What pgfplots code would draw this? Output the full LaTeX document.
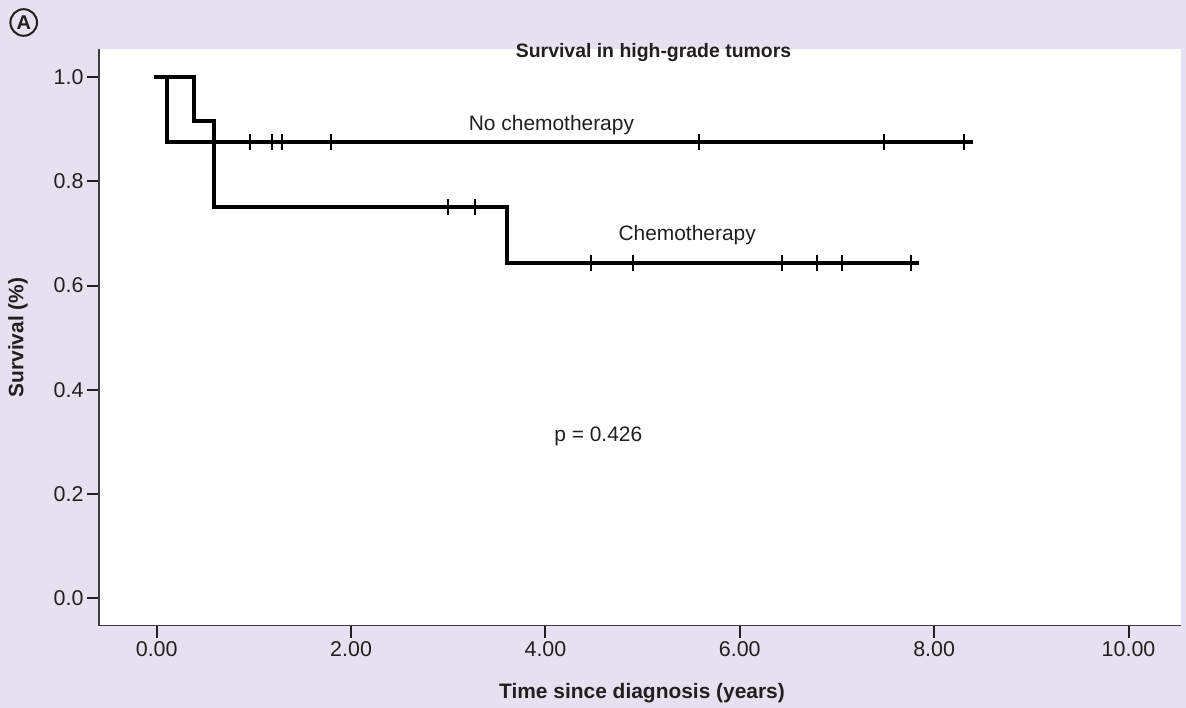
\documentclass[border=0pt]{standalone}
\usepackage{pgfplots}
\pgfplotsset{compat=1.18}
\usepackage{fontspec}
\setmainfont{Liberation Sans}
\definecolor{bg}{RGB}{230,225,240}
\definecolor{axgray}{RGB}{60,60,60}
\definecolor{txt}{RGB}{35,31,32}
\begin{document}
\begin{tikzpicture}[x=1bp,y=1bp]
\fill[bg] (0,0) rectangle (1186,708);
\useasboundingbox (0,0) rectangle (1186,708);
\begin{axis}[
  at={(99bp,82.3bp)}, anchor=south west,
  scale only axis, width=1082bp, height=576.7bp,
  xmin=-0.594, xmax=10.54, ymin=-0.053, ymax=1.054,
  axis x line*=bottom, axis y line*=left,
  axis line style={axgray, line width=1.5bp, -},
  axis background/.style={fill=white},
  xtick={0,2,4,6,8,10}, ytick={0,0.2,0.4,0.6,0.8,1.0},
  tick align=outside, major tick length=12bp,
  tick style={txt, line width=2bp},
  ticklabel style={font=\fontsize{21.5}{25}\selectfont, text=txt},
  x tick label style={/pgf/number format/.cd, fixed, fixed zerofill, precision=2, assume math mode=true},
  y tick label style={/pgf/number format/.cd, fixed, fixed zerofill, precision=1, assume math mode=true},
  clip=false,
]
\addplot[const plot, line width=4bp, black] coordinates {(-0.03,1) (0.109,0.875) (8.40,0.875)};
\addplot[only marks, mark=|, mark size=8bp, mark options={line width=2bp, black}] coordinates {(0.96,0.875) (1.19,0.875) (1.29,0.875) (1.79,0.875) (5.58,0.875) (7.48,0.875) (8.31,0.875)};
\addplot[const plot, line width=4bp, black] coordinates {(-0.03,1) (0.384,0.9167) (0.59,0.75) (3.60,0.643) (7.84,0.643)};
\addplot[only marks, mark=|, mark size=8bp, mark options={line width=2bp, black}] coordinates {(3.00,0.75) (3.28,0.75) (4.47,0.643) (4.90,0.643) (6.43,0.643) (6.79,0.643) (7.05,0.643) (7.76,0.643)};
\node[anchor=base west, font=\fontsize{21}{25}\selectfont, text=txt, inner sep=0pt] at (axis cs:3.21,0.897) {No chemotherapy};
\node[anchor=base west, font=\fontsize{21}{25}\selectfont, text=txt, inner sep=0pt] at (axis cs:4.75,0.686) {Chemotherapy};
\node[anchor=west, font=\fontsize{21}{25}\selectfont, text=txt, inner sep=0pt] at (axis cs:4.09,0.31) {p = 0.426};
\end{axis}
\node[anchor=base, font=\bfseries\fontsize{19.5}{23}\selectfont, text=txt, inner sep=0pt] at (653.5,650) {Survival in high-grade tumors};
\node[anchor=base, font=\bfseries\fontsize{21}{25}\selectfont, text=txt, inner sep=0pt] at (642,9) {Time since diagnosis (years)};
\node[rotate=90, font=\bfseries\fontsize{21}{25}\selectfont, text=txt, inner sep=0pt] at (18,370.5) {Survival (\%)};
\draw[txt, line width=2bp] (23.7,685.5) circle (13.3);
\node[font=\bfseries\fontsize{20}{22}\selectfont, text=txt, inner sep=0pt] at (23.7,685.3) {A};
\end{tikzpicture}
\end{document}
